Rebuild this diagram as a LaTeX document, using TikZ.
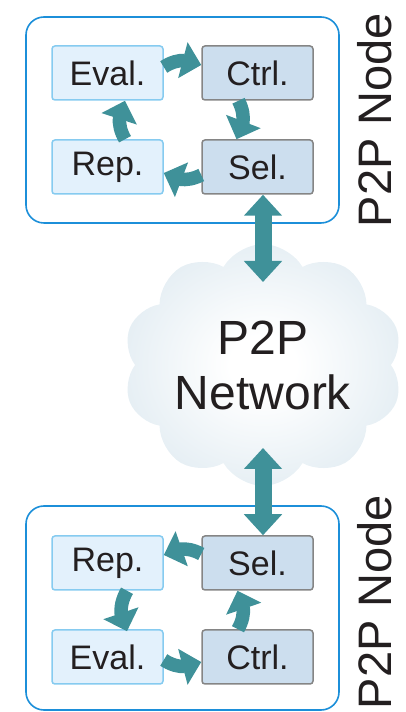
\documentclass[tikz,border=0pt]{standalone}
\usepackage{fontspec}
\setmainfont{Liberation Sans}
\usetikzlibrary{arrows.meta,bending,shapes.symbols,calc}
\definecolor{frameC}{HTML}{1C8FD9}
\definecolor{lboxF}{HTML}{E3F1FC}
\definecolor{lboxD}{HTML}{86CBF0}
\definecolor{dboxF}{HTML}{CCDEEE}
\definecolor{dboxD}{HTML}{858585}
\definecolor{arrowC}{HTML}{3F9199}
\definecolor{cloudC}{HTML}{C6DAE6}
\definecolor{txtC}{HTML}{231F20}
\pgfdeclareradialshading{cloudshade}{\pgfpoint{0bp}{0bp}}{color(0bp)=(white); color(6bp)=(white); color(50bp)=(cloudC)}
\begin{document}
\begin{tikzpicture}[x=1pt,y=1pt,
  frame/.style={draw=frameC, line width=1.6pt, rounded corners=18pt, minimum width=313pt, inner sep=0pt},
  lbox/.style={draw=lboxD, fill=lboxF, line width=1.5pt, rounded corners=3pt, minimum width=111pt, minimum height=54pt, inner sep=0pt, font=\fontsize{34}{40}\selectfont, text=txtC},
  dbox/.style={lbox, draw=dboxD, fill=dboxF},
  cyc/.style={draw=arrowC, line width=13.5pt, -{Triangle[width=36pt,length=19pt,flex]}},
  dbl/.style={draw=arrowC, line width=17pt, {Triangle[width=37pt,length=21pt]}-{Triangle[width=37pt,length=21pt]}},
  vlabel/.style={rotate=90, font=\fontsize{47}{55}\selectfont, text=txtC, inner sep=0pt},
  netcloud/.style={cloud, cloud puffs=10, cloud puff arc=120, aspect=1.2, minimum width=280pt, minimum height=236pt, inner sep=0pt, shading=cloudshade, draw=none, align=center, font=\fontsize{48}{55}\selectfont, text=txtC}
]
\useasboundingbox (0,0) rectangle (405,712);
% frames
\node[frame, minimum height=206pt] (frA) at (182.5,592) {};
\node[frame, minimum height=204pt] (frB) at (182.5,104) {};
% cloud
\node[netcloud] (net) at (263,347) {P2P\\Network};
% top node
\node[lbox] (evA) at (107.5,639) {Eval.};
\node[dbox] (ctA) at (257.5,639) {Ctrl.};
\node[lbox] (reA) at (107.5,545) {Rep.};
\node[dbox] (seA) at (257.5,545) {Sel.};
% bottom node
\node[lbox] (reB) at (107.5,149) {Rep.};
\node[dbox] (seB) at (257.5,149) {Sel.};
\node[lbox] (evB) at (107.5,55) {Eval.};
\node[dbox] (ctB) at (257.5,55) {Ctrl.};
% labels
\node[vlabel] (labA) at (375,592) {P2P Node};
\node[vlabel] (labB) at (375,110) {P2P Node};
% cycle arrows, top
\draw[cyc] ($(evA.east)+(0,6)$) to[bend left=30] ($(ctA.west)+(0,8)$);
\draw[cyc] ($(ctA.south)+(-19,0)$) to[bend left=30] ($(seA.north)+(-21,0)$);
\draw[cyc] ($(seA.west)+(0,-8)$) to[bend left=30] ($(reA.east)+(0,-6)$);
\draw[cyc] ($(reA.north)+(17.5,0)$) to[bend left=30] ($(evA.south)+(17.5,0)$);
% cycle arrows, bottom
\draw[cyc] ($(seB.west)+(0,9)$) to[bend right=30] ($(reB.east)+(0,8)$);
\draw[cyc] ($(reB.south)+(19.5,0)$) to[bend right=30] ($(evB.north)+(19.5,-2)$);
\draw[cyc] ($(evB.east)+(0,-3)$) to[bend right=30] ($(ctB.west)+(0,-5)$);
\draw[cyc] ($(ctB.north)+(-19.5,0)$) to[bend right=30] ($(seB.south)+(-20,0)$);
% network links
\coordinate (netN) at ($(net.center)+(0,83)$);
\coordinate (netS) at ($(net.center)+(0,-83)$);
\draw[dbl] (seA.south -| netN) -- (netN);
\draw[dbl] (netS) -- (seB.north -| netS);
\end{tikzpicture}
\end{document}
